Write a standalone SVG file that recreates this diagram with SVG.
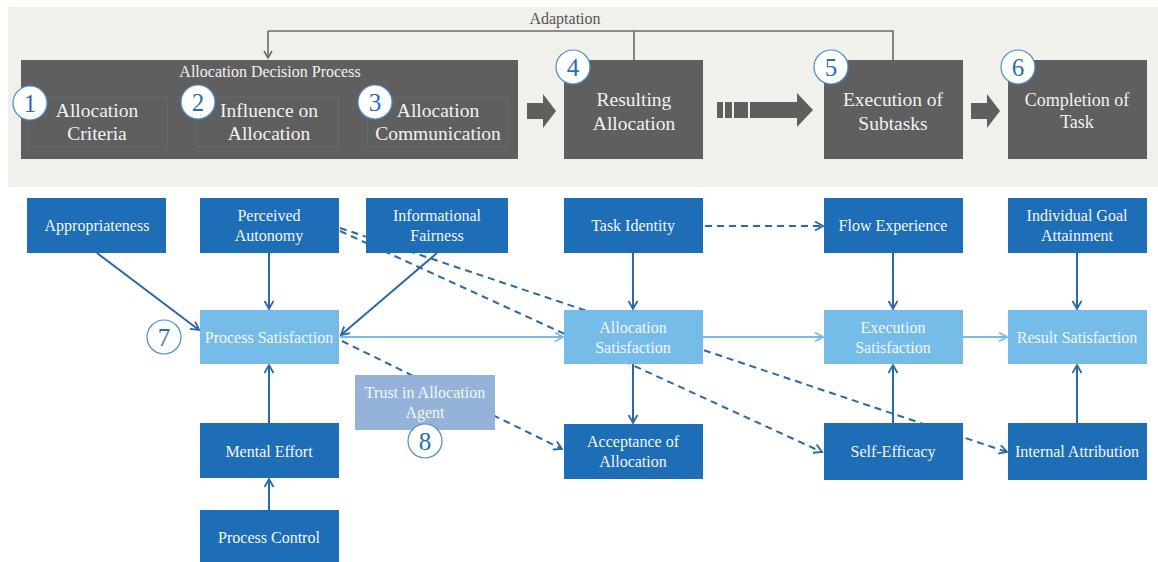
<svg xmlns="http://www.w3.org/2000/svg" width="1158" height="562" viewBox="0 0 1158 562">
  <style>
    .band { fill: #f1f0ea; }
    .stage { fill: #5f5f5f; }
    .sub { fill: none; stroke: #6b6b6b; stroke-width: 1; }
    .stxt { font-family: "Liberation Serif", "Times New Roman", serif; font-size: 19.5px; fill: #f2f2f2; text-anchor: middle; }
    .ttl { font-family: "Liberation Serif", "Times New Roman", serif; font-size: 16px; fill: #f2f2f2; text-anchor: middle; }
    .adapt { font-family: "Liberation Serif", "Times New Roman", serif; font-size: 16px; fill: #555; text-anchor: middle; }
    .badge { fill: #ffffff; stroke: #4a8fd0; stroke-width: 1.2; }
    .num { font-family: "Liberation Serif", "Times New Roman", serif; font-size: 25px; fill: #2a6db5; text-anchor: middle; }
    .dark { fill: #1e6db7; }
    .light { fill: #76bce9; }
    .trust { fill: #95b3d8; }
    .ntxt { font-family: "Liberation Serif", "Times New Roman", serif; font-size: 16px; fill: #f3f6fa; text-anchor: middle; }
    .solid { fill: none; stroke: #2a69a9; stroke-width: 2; marker-end: url(#chev); }
    .dash { fill: none; stroke: #2a69a9; stroke-width: 2; stroke-dasharray: 7 5; marker-end: url(#chev); }
    .pale { fill: none; stroke: #76bce9; stroke-width: 2; marker-end: url(#chevPale); }
    .block { fill: #5f5f5f; }
    .loop { fill: none; stroke: #6a6a6a; stroke-width: 1.6; }
  </style>
  <defs>
    <marker id="chev" markerUnits="userSpaceOnUse" markerWidth="12" markerHeight="12" refX="9" refY="5" orient="auto">
      <path d="M1,0.5 L9,5 L1,9.5" fill="none" stroke="#2a69a9" stroke-width="1.8"/>
    </marker>
    <marker id="chevPale" markerUnits="userSpaceOnUse" markerWidth="12" markerHeight="12" refX="9" refY="5" orient="auto">
      <path d="M1,0.5 L9,5 L1,9.5" fill="none" stroke="#76bce9" stroke-width="1.8"/>
    </marker>
    <marker id="tip" markerUnits="userSpaceOnUse" markerWidth="10" markerHeight="10" refX="5" refY="8" orient="0">
      <path d="M1,1 L5,8 L9,1" fill="none" stroke="#6a6a6a" stroke-width="1.6"/>
    </marker>
  </defs>

  <!-- process band -->
  <rect class="band" x="8" y="7" width="1150" height="180"/>
  <text class="adapt" x="565" y="24">Adaptation</text>
  <g id="adaptation-loop">
    <path class="loop" d="M634,60 V31 M893,60 V31 H268"/>
    <path class="loop" d="M268,31 V58" marker-end="url(#tip)"/>
  </g>

  <g id="stage-decision">
    <rect class="stage" x="21" y="60" width="497" height="99"/>
    <text class="ttl" x="270" y="77">Allocation Decision Process</text>
    <rect class="sub" x="27" y="97" width="140" height="50"/>
    <rect class="sub" x="197" y="97" width="141" height="50"/>
    <rect class="sub" x="367" y="97" width="141" height="50"/>
    <text class="stxt" x="97" y="117">Allocation</text>
    <text class="stxt" x="97" y="140">Criteria</text>
    <text class="stxt" x="269" y="117">Influence on</text>
    <text class="stxt" x="269" y="140">Allocation</text>
    <text class="stxt" x="438" y="117">Allocation</text>
    <text class="stxt" x="438" y="140">Communication</text>
  </g>

  <g id="step-arrows">
    <path class="block" d="M527,103 H543 V94 L556,111 L543,128 V119 H527 Z"/>
    <rect class="block" x="717" y="102" width="6" height="16"/>
    <rect class="block" x="725" y="102" width="7" height="16"/>
    <rect class="block" x="734" y="102" width="14" height="16"/>
    <path class="block" d="M750,102 H797 V93 L813,110 L797,127 V118 H750 Z"/>
    <path class="block" d="M971,103 H987 V94 L1000,111 L987,128 V119 H971 Z"/>
  </g>

  <g id="stage-result">
    <rect class="stage" x="564" y="60" width="139" height="99"/>
    <text class="stxt" x="634" y="106">Resulting</text>
    <text class="stxt" x="634" y="130">Allocation</text>
  </g>
  <g id="stage-execution">
    <rect class="stage" x="824" y="60" width="139" height="99"/>
    <text class="stxt" x="893" y="106">Execution of</text>
    <text class="stxt" x="893" y="130">Subtasks</text>
  </g>
  <g id="stage-completion">
    <rect class="stage" x="1008" y="60" width="139" height="99"/>
    <text class="stxt" x="1077" y="106" style="font-size:18px">Completion of</text>
    <text class="stxt" x="1077" y="128" style="font-size:18px">Task</text>
  </g>

  <!-- numbered badges -->
  <g id="badges">
    <circle class="badge" cx="30" cy="103" r="17"/><text class="num" x="30" y="112">1</text>
    <circle class="badge" cx="198" cy="102" r="17"/><text class="num" x="198" y="111">2</text>
    <circle class="badge" cx="375" cy="102" r="17"/><text class="num" x="375" y="111">3</text>
    <circle class="badge" cx="573" cy="67" r="17"/><text class="num" x="573" y="76">4</text>
    <circle class="badge" cx="831" cy="67" r="17"/><text class="num" x="831" y="76">5</text>
    <circle class="badge" cx="1018" cy="67" r="17"/><text class="num" x="1018" y="76">6</text>
  </g>

  <!-- connectors -->
  <g id="connectors">
    <path class="solid" d="M97,253 L199,330"/>
    <path class="solid" d="M269,253 V309"/>
    <path class="solid" d="M437,253 L341,335"/>
    <path class="solid" d="M269,423 V365"/>
    <path class="solid" d="M269,510 V479"/>
    <path class="solid" d="M633,253 V309"/>
    <path class="solid" d="M633,364 V423"/>
    <path class="solid" d="M893,253 V309"/>
    <path class="solid" d="M893,423 V365"/>
    <path class="solid" d="M1077,253 V309"/>
    <path class="solid" d="M1077,423 V365"/>
    <path class="pale" d="M340,337 H563"/>
    <path class="pale" d="M703,337 H823"/>
    <path class="pale" d="M963,337 H1007"/>
    <path class="dash" d="M705,226 H823"/>
    <path class="dash" d="M340,228 L1007,452"/>
    <path class="dash" d="M340,231 L822,452"/>
    <path class="dash" d="M342,341 L562,449"/>
  </g>

  <!-- factor nodes -->
  <g id="n-appropriateness"><rect class="dark" x="27" y="198" width="139" height="55"/><text class="ntxt" x="97" y="231">Appropriateness</text></g>
  <g id="n-autonomy"><rect class="dark" x="200" y="198" width="139" height="55"/><text class="ntxt" x="269" y="221">Perceived</text><text class="ntxt" x="269" y="241">Autonomy</text></g>
  <g id="n-fairness"><rect class="dark" x="366" y="198" width="142" height="55"/><text class="ntxt" x="437" y="221">Informational</text><text class="ntxt" x="437" y="241">Fairness</text></g>
  <g id="n-task-identity"><rect class="dark" x="564" y="198" width="139" height="55"/><text class="ntxt" x="633" y="231">Task Identity</text></g>
  <g id="n-flow"><rect class="dark" x="824" y="198" width="139" height="55"/><text class="ntxt" x="893" y="231">Flow Experience</text></g>
  <g id="n-goal"><rect class="dark" x="1008" y="198" width="139" height="55"/><text class="ntxt" x="1077" y="221">Individual Goal</text><text class="ntxt" x="1077" y="241">Attainment</text></g>

  <g id="n-process-sat"><rect class="light" x="200" y="310" width="139" height="54"/><text class="ntxt" x="269" y="343">Process Satisfaction</text></g>
  <g id="n-allocation-sat"><rect class="light" x="564" y="310" width="139" height="54"/><text class="ntxt" x="633" y="333">Allocation</text><text class="ntxt" x="633" y="353">Satisfaction</text></g>
  <g id="n-execution-sat"><rect class="light" x="824" y="310" width="139" height="54"/><text class="ntxt" x="893" y="333">Execution</text><text class="ntxt" x="893" y="353">Satisfaction</text></g>
  <g id="n-result-sat"><rect class="light" x="1008" y="310" width="139" height="54"/><text class="ntxt" x="1077" y="343">Result Satisfaction</text></g>

  <g id="n-trust"><rect class="trust" x="355" y="375" width="140" height="55"/><text class="ntxt" x="425" y="398">Trust in Allocation</text><text class="ntxt" x="425" y="418">Agent</text></g>

  <g id="n-mental-effort"><rect class="dark" x="200" y="423" width="139" height="55"/><text class="ntxt" x="269" y="457">Mental Effort</text></g>
  <g id="n-process-control"><rect class="dark" x="200" y="510" width="139" height="52"/><text class="ntxt" x="269" y="543">Process Control</text></g>
  <g id="n-acceptance"><rect class="dark" x="564" y="424" width="139" height="55"/><text class="ntxt" x="633" y="447">Acceptance of</text><text class="ntxt" x="633" y="467">Allocation</text></g>
  <g id="n-self-efficacy"><rect class="dark" x="824" y="423" width="139" height="57"/><text class="ntxt" x="893" y="457">Self-Efficacy</text></g>
  <g id="n-internal-attr"><rect class="dark" x="1008" y="423" width="139" height="57"/><text class="ntxt" x="1077" y="457">Internal Attribution</text></g>

  <g id="badge-7"><circle class="badge" cx="164" cy="337" r="17"/><text class="num" x="164" y="346">7</text></g>
  <g id="badge-8"><circle class="badge" cx="425" cy="441" r="17"/><text class="num" x="425" y="450">8</text></g>
</svg>
